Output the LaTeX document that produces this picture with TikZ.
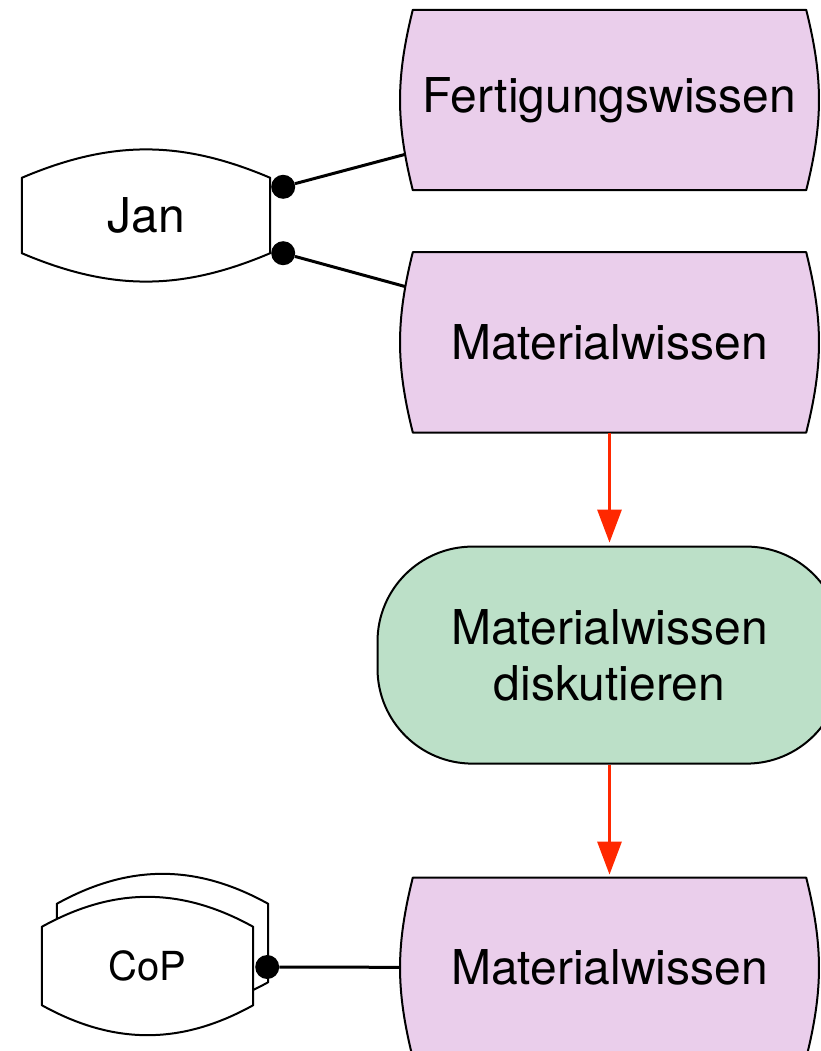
\documentclass[tikz,border=0pt]{standalone}
\usepackage{fontspec}
\setmainfont{TeX Gyre Heros}
\usepackage{xcolor}
\usepackage{tikz}
\usetikzlibrary{positioning,calc,arrows.meta,backgrounds}

\definecolor{knowpink}{RGB}{234,206,235}
\definecolor{taskgreen}{RGB}{188,224,200}
\definecolor{flowred}{RGB}{255,40,0}

\begin{document}
\begin{tikzpicture}[x=1pt,y=-1pt,
    knowledge/.style={minimum width=393pt, minimum height=180pt, inner sep=0pt, font=\fontsize{48}{56}\selectfont},
    task/.style={draw, line width=2pt, fill=taskgreen, rounded corners=95pt, minimum width=464pt, minimum height=217pt, align=center, font=\fontsize{48}{56}\selectfont},
    person/.style={minimum width=248pt, minimum height=75pt, inner sep=0pt, font=\fontsize{48}{56}\selectfont},
    dot/.style={circle, fill, inner sep=0pt, minimum size=24pt},
    outline/.style={draw, line width=2pt, line join=round},
    link/.style={line width=3pt},
    flow/.style={flowred, line width=3pt, -{Triangle[length=33pt,width=24pt]}, shorten >=3pt}]
    \useasboundingbox (0,0) rectangle (820,1051);

    % knowledge objects and the task
    \node[knowledge] (fw) at (609.5,100) {Fertigungswissen};
    \node[knowledge, below=62pt of fw] (mw) {Materialwissen};
    \node[task, below=113pt of mw] (disc) {Materialwissen\\diskutieren};
    \node[knowledge, below=113pt of disc] (mwcop) {Materialwissen};

    % people
    \node[person] (jan) at (146,215.5) {Jan};
    \node[person, minimum width=211pt, minimum height=78pt, font=\fontsize{40}{48}\selectfont] (cop) at (147.5,966) {CoP};

    % connection dots
    \node[dot] (jdot1) at ($(jan.north east)+(13,9)$) {};
    \node[dot] (jdot2) at ($(jan.south east)+(13,0)$) {};
    \node[dot] (cdot) at ($(cop.east)+(14,1)$) {};

    \draw[flow] (mw) -- (disc);
    \draw[flow] (disc) -- (mwcop);

    \begin{scope}[on background layer]
        % links run to the centres, the fill covers the rest
        \draw[link] (jdot1) -- (fw.center);
        \draw[link] (jdot2) -- (mw.center);
        \draw[link] (cdot) -- (mwcop.center);

        \foreach \k in {fw,mw,mwcop}
            \draw[outline, fill=knowpink] (\k.south west) to[bend left=14] (\k.north west) -- (\k.north east) to[bend left=14] (\k.south east) -- cycle;

        % Jan
        \draw[outline, fill=white] (jan.north west) to[bend left=23] (jan.north east) -- (jan.south east) to[bend left=23] (jan.south west) -- cycle;

        % CoP, a stack of two
        \draw[outline, fill=white] ($(cop.north west)+(15,-23)$) to[bend left=29] ($(cop.north east)+(15,-23)$) -- ($(cop.south east)+(15,-23)$) to[bend left=29] ($(cop.south west)+(15,-23)$) -- cycle;
        \draw[outline, fill=white] (cop.north west) to[bend left=29] (cop.north east) -- (cop.south east) to[bend left=29] (cop.south west) -- cycle;
    \end{scope}
\end{tikzpicture}
\end{document}
